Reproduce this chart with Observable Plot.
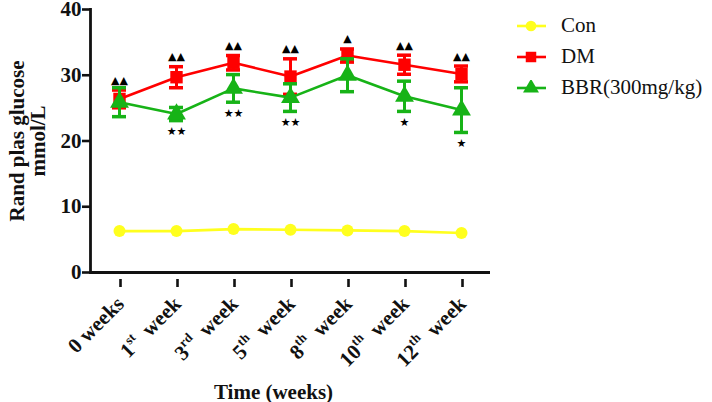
<!DOCTYPE html>
<html>
<head>
<meta charset="utf-8">
<script src="https://cdn.jsdelivr.net/npm/d3@7"></script>
<script src="https://cdn.jsdelivr.net/npm/@observablehq/plot@0.6"></script>
<style>
  html, body { margin: 0; padding: 0; background: #fff; }
  #wrap { position: relative; width: 712px; height: 402px; }
  #legend { position: absolute; left: 515px; top: 10px; font-family: "Liberation Serif", "Times New Roman", serif; font-size: 21px; color: #111; }
  .row { display: flex; align-items: center; height: 31px; }
  .row svg { margin-right: 14px; }
</style>
</head>
<body>
<div id="wrap">
  <div id="chart"></div>
  <div id="legend"></div>
</div>
<script>
const weeks = ["0 weeks", "1st week", "3rd week", "5th week", "8th week", "10th week", "12th week"];
const conMean = [6.3, 6.3, 6.6, 6.5, 6.4, 6.3, 6.0];
const dmMean = [26.4, 29.7, 31.9, 29.8, 33.0, 31.6, 30.2];
const dmErr = [1.35, 1.6, 1.1, 2.7, 1.0, 1.45, 1.2];
const bbrMean = [25.9, 24.1, 28.0, 26.6, 30.0, 26.8, 24.7];
const bbrErr = [2.2, 1.0, 2.1, 2.1, 2.5, 2.3, 3.4];
const dmMarks = ["▲▲", "▲▲", "▲▲", "▲▲", "▲", "▲▲", "▲▲"];
const bbrMarks = ["", "★★", "★★", "★★", "", "★", "★"];
const yTicks = [0, 10, 20, 30, 40];
const seriesNames = ["Con", "DM", "BBR(300mg/kg)"];
const yTitle = "Rand plas glucose\nmmol/L";
const xTitle = "Time (weeks)";

const colors = {Con: "#ffff1e", DM: "#ff0000", BBR: "#17b317"};

const rows = weeks.map((w, i) => ({
  week: w,
  con: conMean[i],
  dm: dmMean[i], dmLo: dmMean[i] - dmErr[i], dmHi: dmMean[i] + dmErr[i],
  bbr: bbrMean[i], bbrLo: bbrMean[i] - bbrErr[i], bbrHi: bbrMean[i] + bbrErr[i],
  dmMark: dmMarks[i], bbrMark: bbrMarks[i]
}));

function seriesMarks(key, color, symbol, r) {
  return [
    Plot.line(rows, {x: "week", y: key, stroke: color, strokeWidth: 2.6}),
    Plot.ruleX(rows, {x: "week", y1: key + "Lo", y2: key + "Hi", stroke: color, strokeWidth: 3}),
    Plot.tickY(rows, {x: "week", y: key + "Lo", stroke: color, strokeWidth: 3.5}),
    Plot.tickY(rows, {x: "week", y: key + "Hi", stroke: color, strokeWidth: 3.5}),
    Plot.dot(rows, {x: "week", y: key, symbol: symbol, r: r, fill: color, stroke: "none"})
  ];
}

const chart = Plot.plot({
  width: 712,
  height: 402,
  marginLeft: 90,
  marginRight: 222,
  marginTop: 9,
  marginBottom: 130,
  style: {fontFamily: "'Liberation Serif', 'Times New Roman', serif", color: "#111", background: "transparent", overflow: "visible"},
  x: {type: "band", domain: weeks, paddingInner: 0.755, paddingOuter: 0.374},
  y: {domain: [0, 40]},
  marks: [
    Plot.axisY({ticks: yTicks, tickSize: 8, tickPadding: 1, fontSize: 21, fontWeight: "bold", strokeWidth: 2.6, label: null}),
    Plot.axisX({tickSize: 8, tickPadding: 13, tickRotate: -45, fontSize: 21, fontWeight: "bold", strokeWidth: 2.6, label: null, dy: 7, dx: 1}),
    Plot.frame({anchor: "left", strokeWidth: 2.8}),
    Plot.ruleY([0], {strokeWidth: 2.8}),
    Plot.line(rows, {x: "week", y: "con", stroke: colors.Con, strokeWidth: 2.6}),
    Plot.dot(rows, {x: "week", y: "con", symbol: "circle", r: 6, fill: colors.Con}),
    ...seriesMarks("dm", colors.DM, "square", 7),
    ...seriesMarks("bbr", colors.BBR, "triangle", 7),
    Plot.text(rows, {x: "week", y: "dmHi", text: "dmMark", dy: -10, fontSize: 11, fill: "#000", fontFamily: "DejaVu Sans"}),
    Plot.text(rows, {x: "week", y: "bbrLo", text: "bbrMark", dy: 11, fontSize: 11, fill: "#000", fontFamily: "DejaVu Sans"}),
    Plot.text([yTitle], {frameAnchor: "left", textAnchor: "middle", dx: -63, rotate: -90, fontSize: 21, fontWeight: "bold", lineHeight: 1.02, fill: "#111"}),
    Plot.text([xTitle], {frameAnchor: "bottom", dx: -17, dy: 126, fontSize: 21, fontWeight: "bold", fill: "#111"})
  ]
});

// superscript ordinals in the x tick labels
chart.querySelectorAll('[aria-label="x-axis tick label"] text').forEach(t => {
  const s = t.textContent;
  const m = s.match(/^(\d+)(st|nd|rd|th) (.*)$/);
  t.style.whiteSpace = "pre";
  if (!m) return;
  t.textContent = "";
  const ns = "http://www.w3.org/2000/svg";
  const a = document.createElementNS(ns, "tspan"); a.textContent = m[1];
  const b = document.createElementNS(ns, "tspan"); b.textContent = m[2];
  b.setAttribute("font-size", "13"); b.setAttribute("dy", "-9");
  const c = document.createElementNS(ns, "tspan"); c.textContent = "  " + m[3];
  c.setAttribute("dy", "9");
  t.append(a, b, c);
});

document.getElementById("chart").append(chart);

// legend
const legend = document.getElementById("legend");
const legendColors = [colors.Con, colors.DM, colors.BBR];
seriesNames.forEach((name, i) => {
  const row = document.createElement("div");
  row.className = "row";
  const sw = d3.create("svg").attr("width", 32).attr("height", 16);
  sw.append("line").attr("x1", 2).attr("x2", 31).attr("y1", 8).attr("y2", 8)
    .attr("stroke", legendColors[i]).attr("stroke-width", 2.6);
  sw.append("path").attr("transform", "translate(16,8)")
    .attr("d", d3.symbol(i === 0 ? d3.symbolCircle : i === 1 ? d3.symbolSquare : d3.symbolTriangle, i === 0 ? 90 : 110)())
    .attr("fill", legendColors[i]);
  row.append(sw.node());
  const span = document.createElement("span");
  span.textContent = name;
  row.append(span);
  legend.append(row);
});
</script>
</body>
</html>
